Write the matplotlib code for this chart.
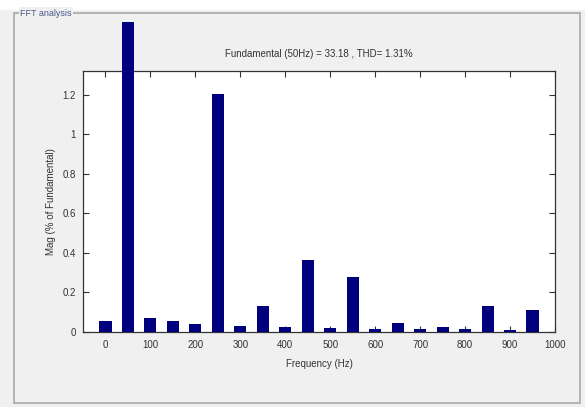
import matplotlib.pyplot as plt
from matplotlib.patches import Rectangle

# harmonic spectrum, magnitude in % of fundamental
freqs = [0, 50, 100, 150, 200, 250, 300, 350, 400, 450,
         500, 550, 600, 650, 700, 750, 800, 850, 900, 950]
mags = [0.057, 1.57, 0.072, 0.057, 0.042, 1.205, 0.032, 0.13, 0.027, 0.365,
        0.019, 0.278, 0.015, 0.047, 0.015, 0.025, 0.016, 0.13, 0.009, 0.11]
xticks = [0, 100, 200, 300, 400, 500, 600, 700, 800, 900, 1000]
yticks = [0, 0.2, 0.4, 0.6, 0.8, 1.0, 1.2]
ytick_labels = ['0', '0.2', '0.4', '0.6', '0.8', '1', '1.2']
title = 'Fundamental (50Hz) = 33.18 , THD= 1.31%'

plt.rcParams['font.family'] = ['Liberation Sans', 'DejaVu Sans']

fig = plt.figure(figsize=(5.85, 4.07), dpi=100)
fig.patch.set_facecolor('white')

# gray panel with etched frame
panel = Rectangle((0.0, 0.0), 1.0, 0.975, transform=fig.transFigure,
                  facecolor='#f0f0f0', edgecolor='none', zorder=-3)
fig.add_artist(panel)
frame = Rectangle((14 / 585, 1 - 403 / 407), (580 - 14) / 585, (403 - 13) / 407,
                  transform=fig.transFigure, facecolor='none',
                  edgecolor='#a8a8a8', linewidth=1.2, zorder=-2)
fig.add_artist(frame)
fig.text(20 / 585, 1 - 13 / 407, 'FFT analysis', fontsize=6.5, color='#4a5a8a',
         va='center', ha='left',
         bbox=dict(facecolor='#f0f0f0', edgecolor='none', pad=1.0))

ax = fig.add_axes([83 / 585, 75 / 407, 472 / 585, 261 / 407])
ax.set_facecolor('white')
ax.bar(freqs, mags, width=27, color='#00007f', clip_on=False, zorder=3)

ax.set_xlim(-50, 1000)
ax.set_ylim(0, 1.32)
ax.set_xticks(xticks)
ax.set_yticks(yticks)
ax.set_yticklabels(ytick_labels)
ax.tick_params(direction='in', length=4, width=0.8, labelsize=7,
               colors='#333333', top=True, right=True, pad=6)
ax.tick_params(axis='y', pad=5)
for s in ax.spines.values():
    s.set_linewidth(0.9)
    s.set_color('#333333')

ax.set_xlabel('Frequency (Hz)', fontsize=7, labelpad=6, color='#333333')
ax.set_ylabel('Mag (% of Fundamental)', fontsize=7, color='#333333')
ax.yaxis.set_label_coords(-0.058, 0.5)
ax.set_title(title, fontsize=7, pad=10, color='#333333')

fig.savefig('out.png', dpi=100, facecolor=fig.get_facecolor())
